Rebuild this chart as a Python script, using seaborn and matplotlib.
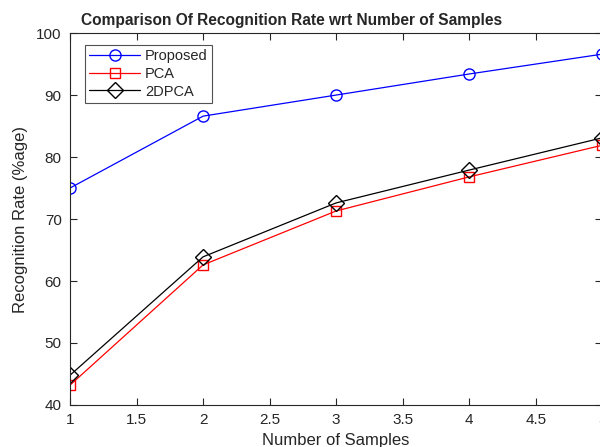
import matplotlib

matplotlib.use("Agg")
import matplotlib.pyplot as plt
import pandas as pd
import seaborn as sns

# values
samples = [1, 2, 3, 4, 5]
proposed = [75.0, 86.6, 90.0, 93.4, 96.6]
pca = [43.2, 62.6, 71.3, 76.8, 81.9]
pca2d = [44.8, 63.9, 72.6, 77.9, 83.1]

series_names = ["Proposed", "PCA", "2DPCA"]
colors = {"Proposed": "#0000ff", "PCA": "#ff0000", "2DPCA": "#000000"}
markers = {"Proposed": "o", "PCA": "s", "2DPCA": "D"}

df = pd.DataFrame(
    {
        "Samples": samples * 3,
        "Rate": proposed + pca + pca2d,
        "Method": [n for n in series_names for _ in samples],
    }
)

sns.set_theme(style="ticks")
plt.rcParams["font.family"] = ["Liberation Sans", "DejaVu Sans"]

fig = plt.figure(figsize=(6, 4.47), dpi=100)
ax = fig.add_axes([0.1167, 0.094, 0.887, 0.832])

for name in series_names:
    sub = df[df["Method"] == name]
    sns.lineplot(
        data=sub,
        x="Samples",
        y="Rate",
        ax=ax,
        color=colors[name],
        marker=markers[name],
        markersize=8 if name != "PCA" else 6.5,
        markerfacecolor="none",
        markeredgecolor=colors[name],
        markeredgewidth=1.0,
        linewidth=0.9,
        label=name,
    )

ax.set_xlim(1, 5)
ax.set_ylim(40, 100)
ax.set_xticks([1, 1.5, 2, 2.5, 3, 3.5, 4, 4.5, 5])
ax.set_xticklabels(["1", "1.5", "2", "2.5", "3", "3.5", "4", "4.5", "5"])
ax.set_yticks([40, 50, 60, 70, 80, 90, 100])
ax.tick_params(
    direction="in", top=True, right=True, length=5, width=0.8,
    labelsize=11, colors="#262626", pad=6,
)
for sp in ax.spines.values():
    sp.set_linewidth(0.8)
    sp.set_color("#262626")

ax.set_xlabel("Number of Samples", fontsize=12, color="#262626", labelpad=4)
ax.set_ylabel("Recognition Rate (%age)", fontsize=12, color="#262626", labelpad=6)
ax.set_title(
    "Comparison Of Recognition Rate wrt Number of Samples",
    fontsize=11.2, fontweight="bold", pad=6, x=0.417,
)

leg = ax.legend(
    loc="upper left", bbox_to_anchor=(0.02, 0.98), fontsize=10.5,
    frameon=True, fancybox=False, borderpad=0.3, labelspacing=0.25,
    handlelength=3.5, handletextpad=0.3, borderaxespad=0.3,
)
leg.get_frame().set_edgecolor("#262626")
leg.get_frame().set_linewidth(0.8)

fig.savefig("out.png", dpi=100)
